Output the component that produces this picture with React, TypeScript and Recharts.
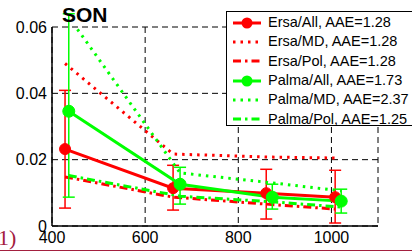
import { LineChart, Line, XAxis, YAxis, CartesianGrid, ErrorBar, Legend } from 'recharts';

const xTicks = [400, 600, 800, 1000];
const yTicks = [0, 0.02, 0.04, 0.06];

const ersaX = [428, 660, 860, 1008];
const palmaX = [436, 675, 873, 1021];

const ersaAll = [0.0232, 0.0114, 0.0099, 0.0087];
const ersaAllLow = [0.0054, 0.0048, 0.0021, 0.0009];
const ersaAllHigh = [0.0409, 0.0183, 0.0171, 0.0168];
const ersaMD = [0.049, 0.0217, 0.0208, 0.0205];
const ersaPol = [0.0148, 0.0087, 0.0066, 0.0051];

const palmaAll = [0.0346, 0.0126, 0.0087, 0.0075];
const palmaAllLow = [0.0087, 0.0066, 0.0051, 0.0039];
const palmaAllHigh = [0.064, 0.0177, 0.0126, 0.0111];
const palmaMD = [0.063, 0.016, 0.013, 0.0106];
const palmaPol = [0.0152, 0.009, 0.0073, 0.0057];

const legendNames = [
  'Ersa/All, AAE=1.28',
  'Ersa/MD, AAE=1.28',
  'Ersa/Pol, AAE=1.28',
  'Palma/All, AAE=1.73',
  'Palma/MD, AAE=2.37',
  'Palma/Pol, AAE=1.25',
];

const RED = '#ff0000';
const GREEN = '#00ff00';
const DOT = '2.5 5';
const DASHDOT = '8 4 2.5 4';

const rows = (xs: number[], ys: number[], lo?: number[], hi?: number[]) =>
  xs.map((x, i) => ({
    x,
    y: ys[i],
    err: lo && hi ? [ys[i] - lo[i], hi[i] - ys[i]] : undefined,
  }));

const legendStyles = [
  { color: RED, dash: undefined, marker: true },
  { color: RED, dash: DOT, marker: false },
  { color: RED, dash: DASHDOT, marker: false },
  { color: GREEN, dash: undefined, marker: true },
  { color: GREEN, dash: DOT, marker: false },
  { color: GREEN, dash: DASHDOT, marker: false },
];

function LegendBox() {
  return (
    <div
      style={{
        background: '#fff',
        border: '1px solid #000',
        width: 200,
        height: 115,
        boxSizing: 'border-box',
        paddingLeft: 6,
        paddingTop: 1,
      }}
    >
      {legendNames.map((name, i) => {
        const s = legendStyles[i];
        return (
          <div key={name} style={{ display: 'flex', alignItems: 'center', height: 19.3 }}>
            <svg width={28} height={14} style={{ marginRight: 7 }}>
              <line x1={0} y1={7} x2={28} y2={7} stroke={s.color} strokeWidth={3} strokeDasharray={s.dash} />
              {s.marker && <circle cx={14} cy={7} r={5.5} fill={s.color} />}
            </svg>
            <span style={{ fontSize: 14.5, lineHeight: '17px', color: '#000', whiteSpace: 'nowrap' }}>{name}</span>
          </div>
        );
      })}
    </div>
  );
}

export default function App() {
  const tickStyle = { fontSize: 16, fill: '#000' };
  return (
    <div
      style={{
        position: 'absolute',
        left: 0,
        top: 0,
        width: 412,
        height: 252,
        overflow: 'hidden',
        background: '#fff',
        fontFamily: '"Liberation Sans", Arial, sans-serif',
      }}
    >
      <LineChart width={412} height={252} margin={{ top: 27, right: 34, left: 0, bottom: 0 }}>
        <CartesianGrid stroke="#000" strokeDasharray="6 4" strokeWidth={1} />
        <XAxis
          dataKey="x"
          type="number"
          domain={[400, 1100]}
          ticks={xTicks}
          allowDataOverflow
          height={26}
          tickLine={false}
          tickSize={4}
          tickMargin={2}
          tick={tickStyle}
          axisLine={{ stroke: '#000', strokeWidth: 1.5 }}
        />
        <XAxis
          xAxisId="top"
          orientation="top"
          type="number"
          domain={[400, 1100]}
          height={0}
          tick={false}
          tickLine={false}
          axisLine={{ stroke: '#000', strokeWidth: 1.5 }}
        />
        <YAxis
          type="number"
          domain={[0, 0.06]}
          ticks={yTicks}
          allowDataOverflow
          width={52}
          tickLine={false}
          tickSize={3}
          tickMargin={2}
          tick={tickStyle}
          tickFormatter={(v: number) => (v === 0 ? '0' : v.toFixed(2))}
          axisLine={{ stroke: '#000', strokeWidth: 1.5 }}
        />
        <YAxis
          yAxisId="right"
          orientation="right"
          type="number"
          domain={[0, 0.06]}
          width={0}
          tick={false}
          tickLine={false}
          axisLine={{ stroke: '#000', strokeWidth: 1.5 }}
        />
        <Line
          data={rows(ersaX, ersaAll, ersaAllLow, ersaAllHigh)}
          dataKey="y"
          stroke={RED}
          strokeWidth={3}
          dot={{ r: 5.5, fill: RED, stroke: RED, strokeWidth: 1 }}
          isAnimationActive={false}
        >
          <ErrorBar dataKey="err" direction="y" width={6} stroke={RED} strokeWidth={1.5} />
        </Line>
        <Line
          data={rows(ersaX, ersaMD)}
          dataKey="y"
          stroke={RED}
          strokeWidth={3}
          strokeDasharray={DOT}
          dot={false}
          isAnimationActive={false}
        />
        <Line
          data={rows(ersaX, ersaPol)}
          dataKey="y"
          stroke={RED}
          strokeWidth={3}
          strokeDasharray={DASHDOT}
          dot={false}
          isAnimationActive={false}
        />
        <Line
          data={rows(palmaX, palmaAll, palmaAllLow, palmaAllHigh)}
          dataKey="y"
          stroke={GREEN}
          strokeWidth={3}
          dot={{ r: 6, fill: GREEN, stroke: GREEN, strokeWidth: 1 }}
          isAnimationActive={false}
        >
          <ErrorBar dataKey="err" direction="y" width={6} stroke={GREEN} strokeWidth={1.5} />
        </Line>
        <Line
          data={rows(palmaX, palmaMD)}
          dataKey="y"
          stroke={GREEN}
          strokeWidth={3}
          strokeDasharray={DOT}
          dot={false}
          isAnimationActive={false}
        />
        <Line
          data={rows(palmaX, palmaPol)}
          dataKey="y"
          stroke={GREEN}
          strokeWidth={3}
          strokeDasharray={DASHDOT}
          dot={false}
          isAnimationActive={false}
        />
        <Legend
          layout="horizontal"
          verticalAlign="middle"
          align="center"
          content={() => <LegendBox />}
          wrapperStyle={{ top: 11, left: 226, width: 200, height: 115 }}
        />
      </LineChart>
      <div
        style={{
          position: 'absolute',
          left: 62,
          top: 3,
          fontSize: 21,
          fontWeight: 'bold',
          lineHeight: '24px',
          color: '#000',
        }}
      >
        SON
      </div>
      <div
        style={{
          position: 'absolute',
          left: -2,
          top: 226,
          fontFamily: '"Liberation Serif", serif',
          fontSize: 22,
          lineHeight: '24px',
          color: '#a3203f',
        }}
      >
        1)
      </div>
      <div
        style={{
          position: 'absolute',
          left: 0,
          top: 250,
          width: 412,
          height: 1,
          background: '#a3203f',
        }}
      />
    </div>
  );
}
